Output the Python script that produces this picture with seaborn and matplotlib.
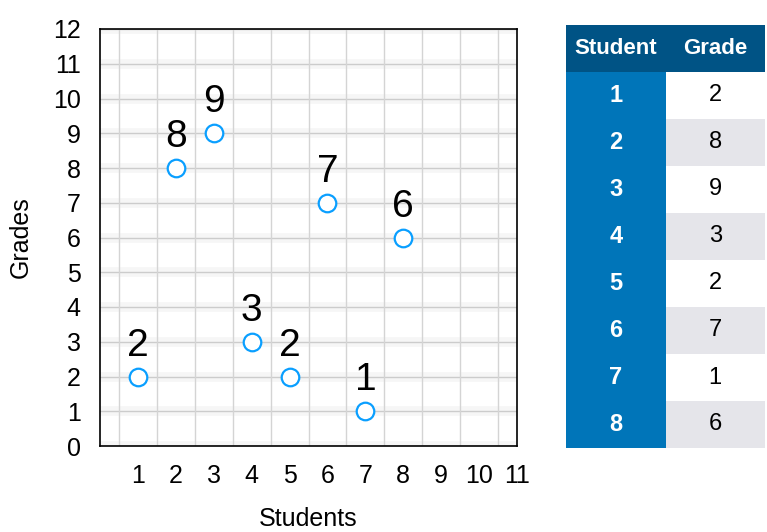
import numpy as np
import matplotlib
matplotlib.use('Agg')
import matplotlib.pyplot as plt
import seaborn as sns
import pandas as pd

students = [1, 2, 3, 4, 5, 6, 7, 8]
grades = [2, 8, 9, 3, 2, 7, 1, 6]
x_ticks = list(range(1, 12))
y_ticks = list(range(0, 13))

sns.set_style('white')
plt.rcParams['font.family'] = ['Liberation Sans', 'DejaVu Sans']
plt.rcParams['text.color'] = 'black'
plt.rcParams['axes.labelcolor'] = 'black'
plt.rcParams['xtick.color'] = 'black'
plt.rcParams['ytick.color'] = 'black'

df = pd.DataFrame({'Student': students, 'Grade': grades})

fig = plt.figure(figsize=(7.67, 5.32), dpi=100)
ax = fig.add_axes([100 / 767, 1 - 446 / 532, 417 / 767, 417 / 532])

# soft shadow + thin line for the horizontal grid
for g in y_ticks:
    ax.axhline(g, color='#000000', alpha=0.035, lw=7, zorder=0)
    ax.axhline(g, color='#cccccc', lw=1, zorder=0.5)
ax.set_xticks(np.arange(0.5, 11, 1), minor=True)
ax.grid(which='minor', axis='x', color='#d4d4d4', lw=1)

sns.scatterplot(data=df, x='Student', y='Grade', ax=ax, s=160,
                facecolor='white', edgecolor='#0a9fff', linewidth=1.6, zorder=3)

for s, g in zip(students, grades):
    ax.annotate(str(g), (s, g), textcoords='offset points', xytext=(0, 15),
                ha='center', va='baseline', fontsize=28, color='black')

ax.set_xlim(0, 11)
ax.set_ylim(0, 12)
ax.set_xticks(x_ticks)
ax.set_yticks(y_ticks)
ax.tick_params(axis='x', length=0, pad=13, labelsize=18)
ax.tick_params(axis='y', length=0, pad=14, labelsize=18)
for sp in ax.spines.values():
    sp.set_visible(True)
    sp.set_color('black')
    sp.set_linewidth(1.2)
ax.set_xlabel('Students', fontsize=18, labelpad=14)
ax.set_ylabel('Grades', fontsize=18, labelpad=14)

# table on the right
ax_t = fig.add_axes([566 / 767, 1 - 448 / 532, 199 / 767, 423 / 532])
ax_t.axis('off')
cell_text = [[str(s), str(g)] for s, g in zip(students, grades)]
tab = ax_t.table(cellText=cell_text, colLabels=['Student', 'Grade'],
                 bbox=[0, 0, 1, 1], cellLoc='center')
tab.auto_set_font_size(False)
for (r, c), cell in tab.get_celld().items():
    cell.set_linewidth(0)
    txt = cell.get_text()
    if r == 0:
        cell.set_facecolor('#005385')
        txt.set_color('white')
        txt.set_fontweight('bold')
        txt.set_fontsize(16)
    elif c == 0:
        cell.set_facecolor('#0075b9')
        txt.set_color('white')
        txt.set_fontweight('bold')
        txt.set_fontsize(17)
    else:
        cell.set_facecolor('white' if r % 2 == 1 else '#e5e5ea')
        txt.set_color('black')
        txt.set_fontsize(17)

fig.savefig('out.png', dpi=100)
